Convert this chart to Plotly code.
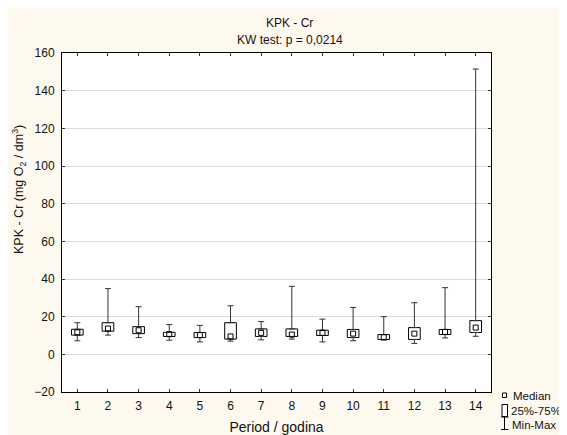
"""
Box plot of KPK - Cr per period (median, 25%-75%, min-max), Statistica style.
"""

import plotly.graph_objects as go

periods = list(range(1, 15))
mins = [7.2, 10.2, 8.9, 7.5, 6.6, 7.0, 7.7, 8.1, 6.6, 7.2, 7.6, 5.8, 8.7, 9.6]
q1 = [10.2, 12.3, 11.0, 9.5, 8.9, 8.1, 9.5, 9.5, 10.0, 8.9, 7.9, 7.9, 10.5, 11.6]
medians = [11.7, 13.7, 12.8, 10.7, 10.2, 9.5, 11.4, 10.5, 11.4, 11.0, 9.1, 11.0, 11.9, 14.2]
q3 = [13.3, 16.8, 14.7, 11.7, 11.6, 16.8, 13.5, 13.5, 12.8, 13.2, 10.5, 14.2, 13.2, 17.9]
maxs = [16.8, 34.9, 25.3, 15.8, 15.4, 25.8, 17.4, 36.1, 18.7, 24.9, 20.0, 27.4, 35.4, 151.5]

title_lines = ["KPK - Cr", "KW test: p = 0,0214"]
y_title = "KPK - Cr (mg O<sub>2</sub> / dm<sup>3</sup>)"
x_title = "Period / godina"
legend_labels = ["Median", "25%-75%", "Min-Max"]

FONT = "Arial, 'Liberation Sans', sans-serif"
W, H = 559, 427
OFF = 8  # page body margin; screen px = figure px + 8
L, R, T, B = 54, 76, 45, 43
PW, PH = W - L - R, H - T - B
CREAM = "#FEF9EE"
WHISKER = "#333333"


def px_x(x):
    # screen pixel -> paper
    return (x - OFF - L) / PW


def px_y(y):
    return (H - B - (y - OFF)) / PH


fig = go.Figure()

# upper whisker: from q3 up to max
fig.add_trace(go.Scatter(
    x=periods, y=q3, mode="markers",
    marker=dict(size=1, color="rgba(0,0,0,0)"),
    error_y=dict(type="data", symmetric=False,
                 array=[mx - b for mx, b in zip(maxs, q3)],
                 arrayminus=[0] * len(q3),
                 color=WHISKER, thickness=1, width=3),
    showlegend=False, hoverinfo="skip",
))
# lower whisker: from q1 down to min
fig.add_trace(go.Scatter(
    x=periods, y=q1, mode="markers",
    marker=dict(size=1, color="rgba(0,0,0,0)"),
    error_y=dict(type="data", symmetric=False,
                 array=[0] * len(q1),
                 arrayminus=[a - mn for a, mn in zip(q1, mins)],
                 color=WHISKER, thickness=1, width=3),
    showlegend=False, hoverinfo="skip",
))
# 25%-75% boxes
fig.add_trace(go.Bar(
    x=periods, y=[b - a for a, b in zip(q1, q3)], base=q1, width=0.38,
    marker=dict(color="white", line=dict(color="black", width=1)),
    showlegend=False, hoverinfo="skip",
))
# medians
fig.add_trace(go.Scatter(
    x=periods, y=medians, mode="markers",
    marker=dict(symbol="square-open", size=5, color="black", line=dict(width=1)),
    showlegend=False, hoverinfo="skip",
))

shapes = [
    # legend symbols
    dict(type="rect", xref="paper", yref="paper",
         x0=px_x(502.5), x1=px_x(506.5), y0=px_y(393), y1=px_y(397.5),
         line=dict(color="black", width=1), fillcolor="white"),
    dict(type="rect", xref="paper", yref="paper",
         x0=px_x(502), x1=px_x(507.5), y0=px_y(404.5), y1=px_y(416.5),
         line=dict(color="black", width=1), fillcolor="white"),
    dict(type="line", xref="paper", yref="paper",
         x0=px_x(504.5), x1=px_x(504.5), y0=px_y(417), y1=px_y(429.5),
         line=dict(color="black", width=1)),
    dict(type="line", xref="paper", yref="paper",
         x0=px_x(501), x1=px_x(508.5), y0=px_y(417), y1=px_y(417),
         line=dict(color="black", width=1)),
    dict(type="line", xref="paper", yref="paper",
         x0=px_x(501), x1=px_x(508.5), y0=px_y(429.5), y1=px_y(429.5),
         line=dict(color="black", width=1)),
]

annotations = [
    dict(text=title_lines[0], x=px_x(289), y=px_y(23)),
    dict(text=title_lines[1], x=px_x(290), y=px_y(40)),
    dict(text=y_title, x=px_x(19), y=px_y(190), textangle=-90, size=12.5),
    dict(text=legend_labels[0], x=px_x(510.5), y=px_y(395.5), xanchor="left", size=11.5),
    dict(text=legend_labels[1], x=px_x(509), y=px_y(410.5), xanchor="left", size=11.5),
    dict(text=legend_labels[2], x=px_x(509.5), y=px_y(424.5), xanchor="left", size=11.5),
]
for a in annotations:
    size = a.pop("size", 12)
    a.update(xref="paper", yref="paper", showarrow=False, yanchor="middle",
             font=dict(family=FONT, size=size, color="#111111"))
    a.setdefault("xanchor", "center")

fig.update_layout(
    width=W, height=H,
    margin=dict(l=L, r=R, t=T, b=B, pad=0),
    paper_bgcolor=CREAM, plot_bgcolor="white",
    barmode="overlay", showlegend=False,
    font=dict(family=FONT, size=12, color="#111111"),
    shapes=shapes, annotations=annotations,
)
fig.update_xaxes(
    range=[0.5, 14.5], tickvals=periods, ticktext=[str(p) for p in periods],
    showline=True, linecolor="black", linewidth=1, mirror="ticks",
    ticks="inside", ticklen=3, tickcolor="#333333", showgrid=False,
    zeroline=False, title=dict(text=x_title, standoff=9),
    tickfont=dict(size=12), ticklabelstandoff=3, automargin=False,
)
fig.update_yaxes(
    range=[-20, 160], dtick=20, tick0=0,
    showline=True, linecolor="black", linewidth=1, mirror="ticks",
    ticks="inside", ticklen=3, tickcolor="#333333",
    showgrid=True, gridcolor="#DCDCDC", gridwidth=1, zeroline=False,
    tickfont=dict(size=12), ticklabelstandoff=4, automargin=False,
)

fig.write_html("out.html")
